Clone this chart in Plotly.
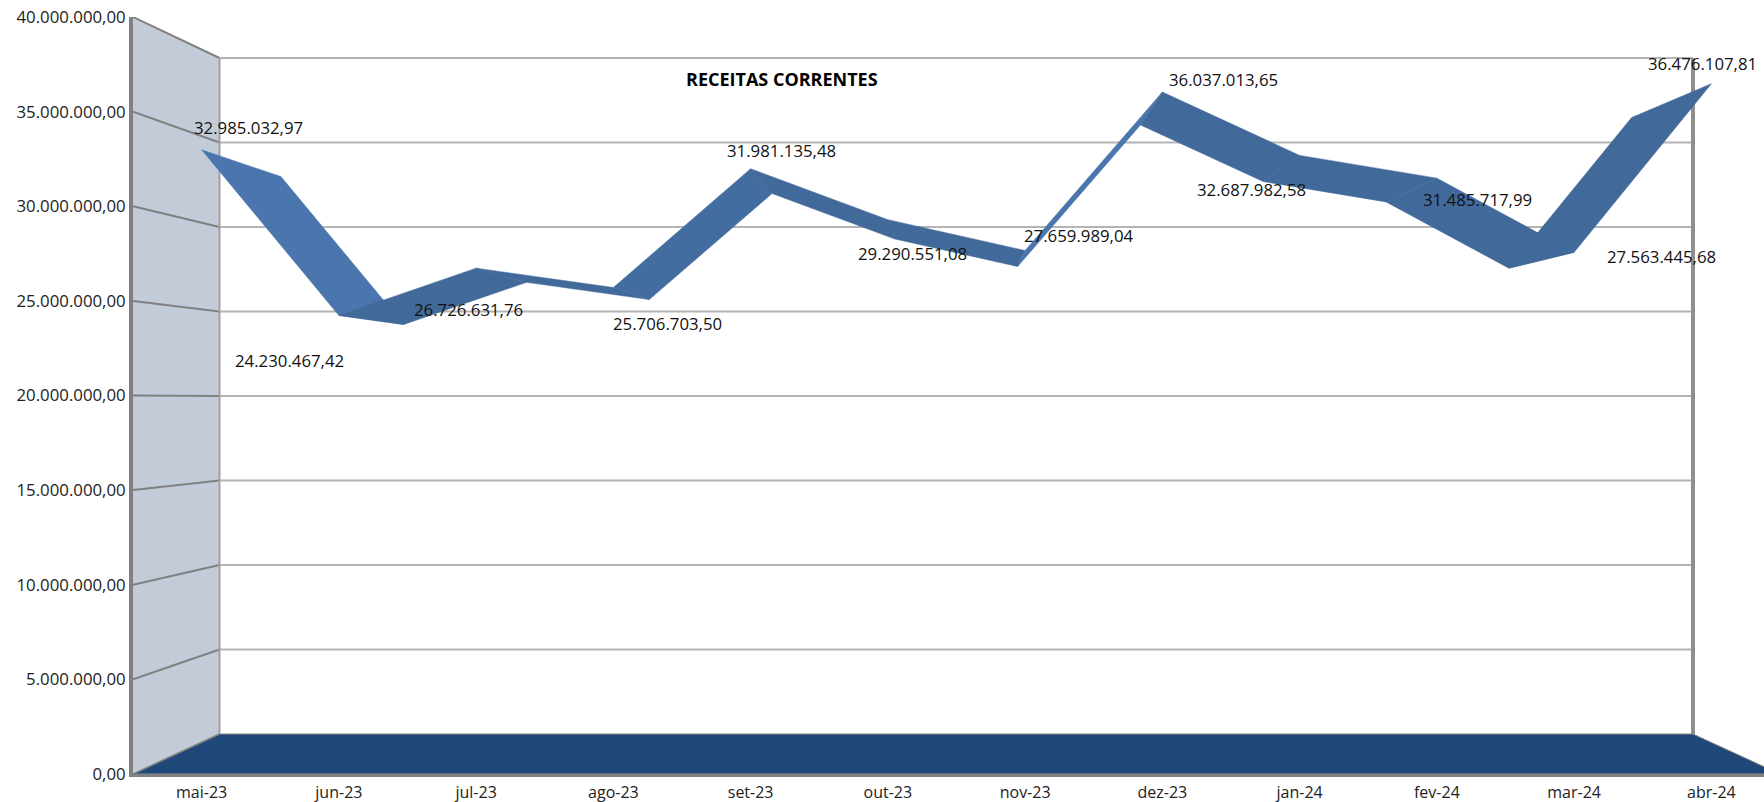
import plotly.graph_objects as go

categories = ["mai-23", "jun-23", "jul-23", "ago-23", "set-23", "out-23",
              "nov-23", "dez-23", "jan-24", "fev-24", "mar-24", "abr-24"]
receitas = [32985032.97, 24230467.42, 26726631.76, 25706703.50, 31981135.48, 29290551.08,
            27659989.04, 36037013.65, 32687982.58, 31485717.99, 27563445.68, 36476107.81]
y_ticks = [0, 5000000, 10000000, 15000000, 20000000, 25000000, 30000000, 35000000, 40000000]
title_text = "RECEITAS CORRENTES"

# label offsets in pixels from each front point
label_dx = [47, -49, -8, 54, 31, 25, 54, 61, -48, 41, 87, -9]
label_dy = [22, -45, -41, -36, 18, -34, 15, 13, -34, -21, -4, 20]

segment_colors = ["#4a76ad", "#41699a", "#41699a", "#436da0", "#41699a", "#41699a",
                  "#4a76ad", "#41699a", "#41699a", "#41699a", "#41699a"]

W, H = 1764, 802
L, T, B = 133, 17, 28
CAT_PX = 137.25
X_MIN = -0.5
X_MAX = X_MIN + (W - L) / CAT_PX
Y_MAX = 40000000

# 3D box: projection from the front plane to the back plane (data units)
BACK_LEFT = X_MIN + (219.5 - 133) / CAT_PX
BACK_STEP = (1693 - 219.5) / CAT_PX / 12
BACK_RIGHT = BACK_LEFT + 12 * BACK_STEP
BACK_Y0 = (773 - 733) / 757 * Y_MAX
BACK_K = (733 - 57) / 757
FRONT_RIGHT = X_MIN + 12


def bx(i):
    return BACK_LEFT + (i + 0.5) * BACK_STEP


def by(v):
    return BACK_Y0 + v * BACK_K


def fmt(v):
    s = f"{v:,.2f}"
    return s.replace(",", "#").replace(".", ",").replace("#", ".")


fig = go.Figure()


def poly(xs, ys, fill, line="rgba(0,0,0,0)", width=0):
    fig.add_trace(go.Scatter(x=xs, y=ys, mode="lines", fill="toself", fillcolor=fill,
                             line=dict(color=line, width=width), hoverinfo="skip", showlegend=False))


def seg(xs, ys, color, width):
    fig.add_trace(go.Scatter(x=xs, y=ys, mode="lines", line=dict(color=color, width=width),
                             hoverinfo="skip", showlegend=False))


# side wall
poly([X_MIN, BACK_LEFT, BACK_LEFT, X_MIN, X_MIN],
     [0, by(0), by(Y_MAX), Y_MAX, 0], "#c3cbd8")
# floor
poly([X_MIN, BACK_LEFT, BACK_RIGHT, FRONT_RIGHT, X_MIN],
     [0, by(0), by(0), 0, 0], "#1f4778", "#8c8c8c", 1)
# grid lines on back wall and side wall
for t in y_ticks[1:]:
    seg([BACK_LEFT, BACK_RIGHT], [by(t), by(t)], "#b4b4b4", 2)
    seg([X_MIN, BACK_LEFT], [t, by(t)], "#808080", 2)
seg([X_MIN, BACK_LEFT], [0, by(0)], "#808080", 1.5)
# back wall verticals
seg([BACK_LEFT, BACK_LEFT], [by(0), by(Y_MAX)], "#a0a0a0", 2)
seg([BACK_RIGHT, BACK_RIGHT], [by(0), by(Y_MAX)], "#8f8f8f", 4)

# ribbon
for i in range(len(receitas) - 1):
    a, b = receitas[i], receitas[i + 1]
    poly([i, i + 1, bx(i + 1), bx(i), i], [a, b, by(b), by(a), a],
         segment_colors[i], segment_colors[i], 0.5)

annotations = [dict(x=i, y=v, xref="x", yref="y", text=fmt(v), showarrow=False,
                    xshift=label_dx[i], yshift=label_dy[i], xanchor="center", yanchor="middle",
                    font=dict(family="Open Sans", size=16.8, color="#111111"))
               for i, v in enumerate(receitas)]
annotations.append(dict(x=(782 - L) / (W - L), y=(H - B - 79) / (H - T - B), xref="paper", yref="paper",
                        text=f"<b>{title_text}</b>", showarrow=False, xanchor="center", yanchor="middle",
                        font=dict(family="Open Sans", size=18, color="#000000")))

fig.update_layout(
    width=W, height=H, margin=dict(l=L, r=0, t=T, b=B), paper_bgcolor="white", plot_bgcolor="white",
    showlegend=False, annotations=annotations,
    font=dict(family="Open Sans", size=16.8, color="#222222"),
    xaxis=dict(range=[X_MIN, X_MAX], tickvals=list(range(12)), ticktext=categories, showgrid=False,
               zeroline=False, showline=True, linecolor="#808080", linewidth=3,
               ticks="outside", ticklen=2, tickcolor="white", tickfont=dict(size=16)),
    yaxis=dict(range=[0, Y_MAX], tickvals=y_ticks, ticktext=[fmt(t) for t in y_ticks], showgrid=False,
               zeroline=False, showline=True, linecolor="#808080", linewidth=4, ticks=""),
)
fig.write_html("out.html", config={"displayModeBar": False},
               post_script="document.body.style.margin='0';")
